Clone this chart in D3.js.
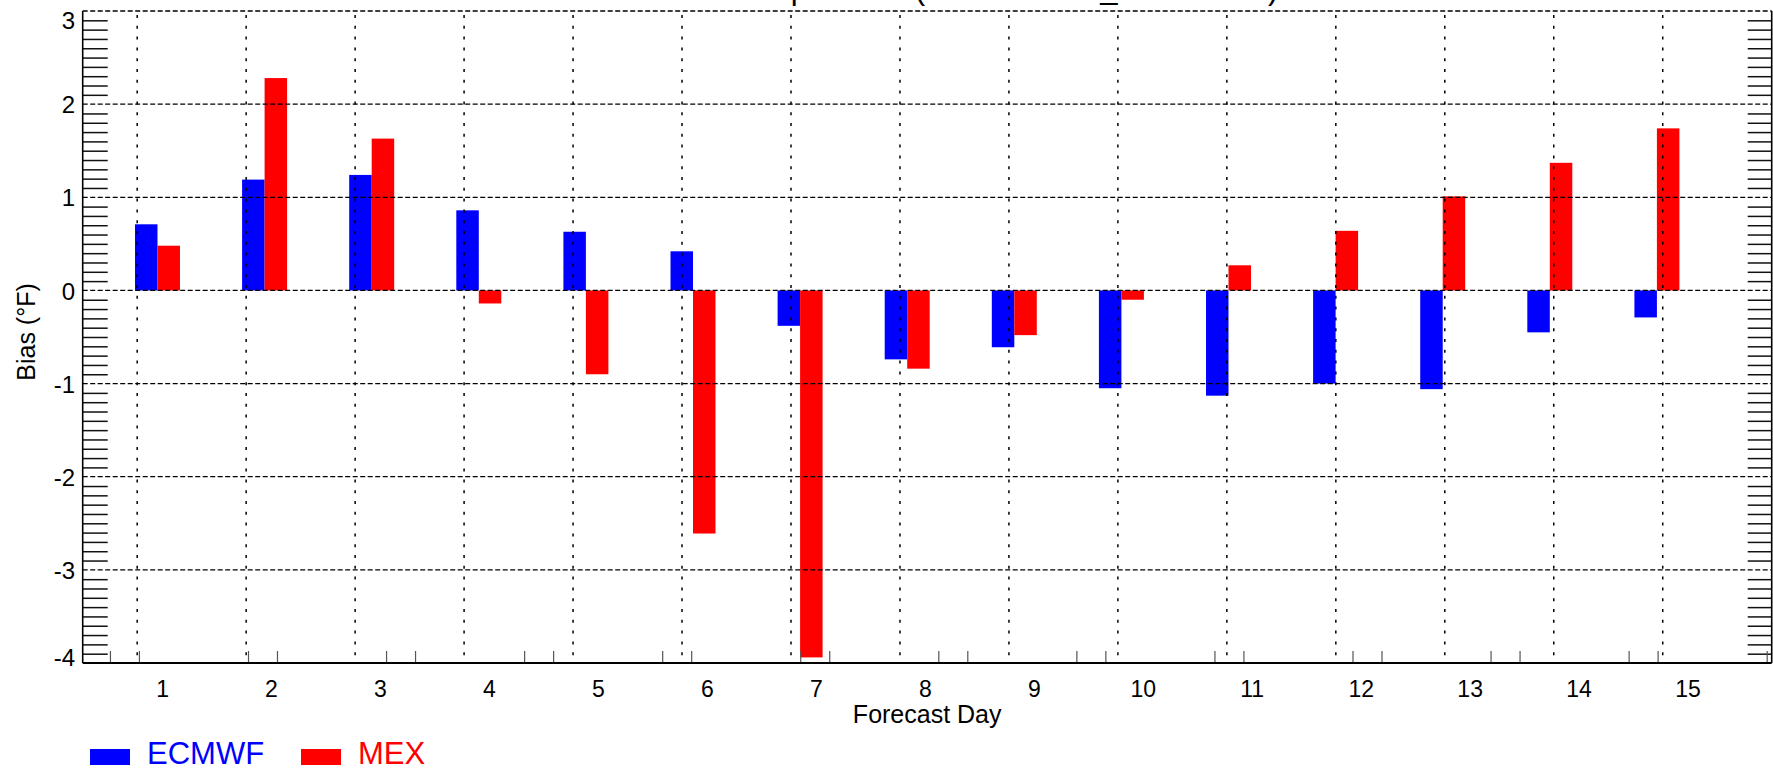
<!DOCTYPE html>
<html>
<head>
<meta charset="utf-8">
<script src="https://cdn.jsdelivr.net/npm/d3@7"></script>
<style>
  body { margin: 0; background: #fff; }
  text { font-family: "Liberation Sans", Arial, sans-serif; }
</style>
</head>
<body>
<div id="chart"></div>
<script>

// data
var days = [1, 2, 3, 4, 5, 6, 7, 8, 9, 10, 11, 12, 13, 14, 15]
var series = ['ECMWF', 'MEX']
var ecmwf = [0.71, 1.19, 1.24, 0.86, 0.63, 0.42, -0.38, -0.74, -0.61, -1.05, -1.13, -1.00, -1.06, -0.45, -0.29]
var mex = [0.48, 2.28, 1.63, -0.14, -0.90, -2.61, -3.94, -0.84, -0.48, -0.10, 0.27, 0.64, 1.01, 1.37, 1.74]
var yTicks = [3, 2, 1, 0, -1, -2, -3, -4]
var colors = { ECMWF: '#0000ff', MEX: '#ff0000' }
var title = 'Maximum Temperature (NORTHERN_STATIONS)'

var W = 1773, H = 770
var plotL = 82.7, plotR = 1771.7, plotT = 11, plotB = 663

var svg = d3.select('#chart')
  .append('svg')
  .attr('width', W)
  .attr('height', H)

// axis scale (grid lines sit on whole days)
var x = d3.scaleLinear()
  .domain([0.5, 16])
  .range([plotL, plotR])

// bars are placed by their own band scale
var xBar = d3.scaleBand()
  .domain(days)
  .range([135, 1679.4])
  .paddingInner(0.58)
  .paddingOuter(0)

var xSub = d3.scaleBand()
  .domain(series)
  .range([0, xBar.bandwidth()])

var y = d3.scaleLinear()
  .domain([-4, 3])
  .range([plotB, plotT])

// title, mostly clipped by the top edge
svg.append('text')
  .attr('x', 934)
  .attr('y', -1.5)
  .attr('text-anchor', 'middle')
  .style('font-size', '31px')
  .text(title)

// bars
var rows = days.map(function(d, i) {
  return { day: d, values: [{ key: 'ECMWF', v: ecmwf[i] }, { key: 'MEX', v: mex[i] }] }
})

svg.selectAll('.group')
  .data(rows)
  .enter().append('g')
  .attr('class', 'group')
  .attr('transform', function(d) { return 'translate(' + xBar(d.day) + ',0)' })
  .selectAll('rect')
  .data(function(d) { return d.values })
  .enter().append('rect')
  .attr('x', function(d) { return xSub(d.key) })
  .attr('width', xSub.bandwidth())
  .attr('y', function(d) { return y(Math.max(0, d.v)) })
  .attr('height', function(d) { return Math.abs(y(d.v) - y(0)) })
  .style('fill', function(d) { return colors[d.key] })

// horizontal dashed grid
svg.selectAll('.hgrid')
  .data(yTicks.filter(function(v) { return v > -4 }))
  .enter().append('line')
  .attr('class', 'hgrid')
  .attr('x1', plotL).attr('x2', plotR)
  .attr('y1', function(d) { return y(d) })
  .attr('y2', function(d) { return y(d) })
  .style('stroke', '#000')
  .style('stroke-width', 1.3)
  .style('stroke-dasharray', '5,2.5')

// vertical dotted grid
svg.selectAll('.vgrid')
  .data(days)
  .enter().append('line')
  .attr('class', 'vgrid')
  .attr('x1', function(d) { return x(d) })
  .attr('x2', function(d) { return x(d) })
  .attr('y1', plotT + 4).attr('y2', plotB)
  .style('stroke', '#000')
  .style('stroke-width', 1.5)
  .style('stroke-dasharray', '3,7.8')

// minor y ticks, both sides
var minor = d3.range(-40, 31).filter(function(i) { return i % 10 !== 0 }).map(function(i) { return i / 10 })

svg.append('g')
  .attr('transform', 'translate(' + plotL + ',0)')
  .call(d3.axisLeft(y).tickValues(minor).tickSize(-25).tickFormat(''))
  .call(function(g) { g.select('.domain').remove() })
  .selectAll('line').style('stroke', '#111').style('stroke-width', 1.5)

svg.append('g')
  .attr('transform', 'translate(' + plotR + ',0)')
  .call(d3.axisRight(y).tickValues(minor).tickSize(-24).tickFormat(''))
  .call(function(g) { g.select('.domain').remove() })
  .selectAll('line').style('stroke', '#111').style('stroke-width', 1.5)

// little ticks standing on the bottom axis
var bTicks = d3.range(0.75, 16, 1.267).concat(d3.range(1.016, 16, 1.267))

svg.append('g')
  .attr('transform', 'translate(0,' + plotB + ')')
  .call(d3.axisTop(x).tickValues(bTicks).tickSize(12).tickFormat(''))
  .call(function(g) { g.select('.domain').remove() })
  .selectAll('line').style('stroke', '#555').style('stroke-width', 1.2)

// frame: left, right, bottom
svg.append('line')
  .attr('x1', plotL).attr('x2', plotL).attr('y1', plotT).attr('y2', plotB)
  .style('stroke', '#000').style('stroke-width', 1.6)
svg.append('line')
  .attr('x1', plotR).attr('x2', plotR).attr('y1', plotT).attr('y2', plotB)
  .style('stroke', '#000').style('stroke-width', 1.6)
svg.append('line')
  .attr('x1', plotL).attr('x2', plotR).attr('y1', plotB).attr('y2', plotB)
  .style('stroke', '#000').style('stroke-width', 2.2)

// y tick labels
svg.append('g')
  .attr('transform', 'translate(' + (plotL - 7.5) + ',0)')
  .call(d3.axisLeft(y).tickValues(yTicks).tickSize(0).tickPadding(0)
    .tickFormat(function(d) { return String(d) }))
  .call(function(g) { g.select('.domain').remove() })
  .selectAll('text')
  .style('font-size', '24px')
  .style('font-family', '"Liberation Sans", Arial, sans-serif')
  .attr('fill', '#000')
  .attr('dy', '0.36em')
  .attr('y', function(d) { return d === 3 ? 9 : d === -4 ? -6 : 0 })

// x tick labels
svg.append('g')
  .attr('transform', 'translate(0,' + plotB + ')')
  .call(d3.axisBottom(x).tickValues(days.map(function(d) { return d + 0.228 }))
    .tickSize(0).tickPadding(0)
    .tickFormat(function(d) { return String(Math.round(d)) }))
  .call(function(g) { g.select('.domain').remove() })
  .selectAll('text')
  .style('font-size', '23px')
  .style('font-family', '"Liberation Sans", Arial, sans-serif')
  .attr('fill', '#000')
  .attr('dy', null)
  .attr('y', 33.5)

// axis titles
svg.append('text')
  .attr('x', (plotL + plotR) / 2)
  .attr('y', 723)
  .attr('text-anchor', 'middle')
  .style('font-size', '25px')
  .text('Forecast Day')

svg.append('text')
  .attr('transform', 'translate(35,332) rotate(-90)')
  .attr('text-anchor', 'middle')
  .style('font-size', '25px')
  .text('Bias (\u00b0F)')

// legend
var legend = svg.selectAll('.legend')
  .data(series)
  .enter().append('g')
  .attr('class', 'legend')
  .attr('transform', function(d, i) { return 'translate(' + (90 + i * 211) + ',749)' })

legend.append('rect')
  .attr('width', 40)
  .attr('height', 16)
  .style('fill', function(d) { return colors[d] })

legend.append('text')
  .attr('x', 57)
  .attr('y', 14.5)
  .style('font-size', '31px')
  .style('fill', function(d) { return colors[d] })
  .text(function(d) { return d })

</script>
</body>
</html>
